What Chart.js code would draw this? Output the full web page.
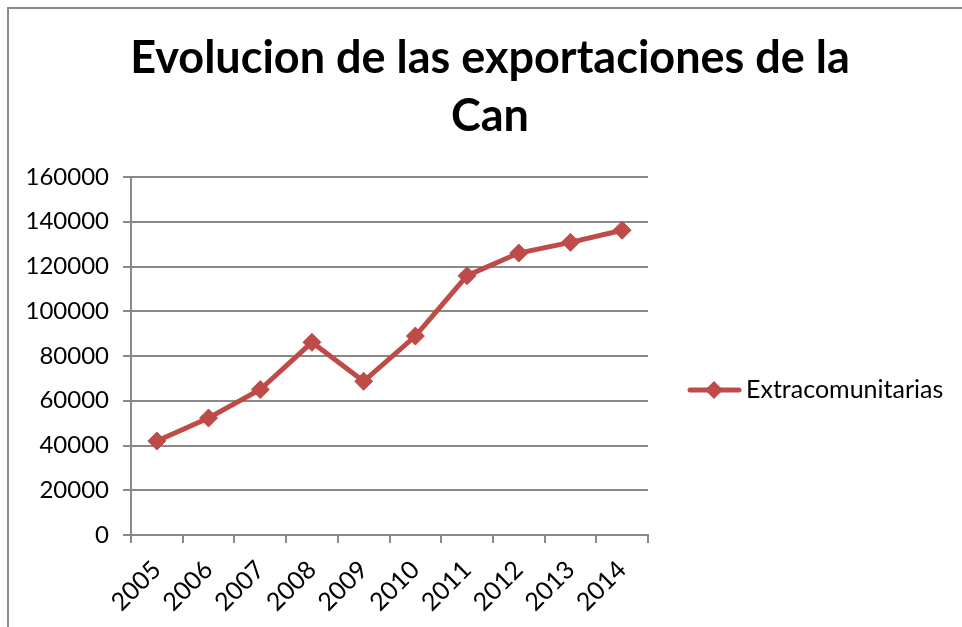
<!DOCTYPE html>
<html>
<head>
<meta charset="utf-8">
<script src="https://cdn.jsdelivr.net/npm/chart.js@4"></script>
<style>
  html, body { margin: 0; padding: 0; background: #fff; overflow: hidden; }
  #frame {
    position: absolute; left: 7px; top: 7px;
    width: 962px; height: 627px;
    border-left: 2px solid #8a8a8a; border-top: 2px solid #8a8a8a;
  }
  #wrap { position: absolute; left: 9px; top: 9px; width: 962px; height: 627px; }
</style>
</head>
<body>
<div id="frame"></div>
<div id="wrap"><canvas id="exportChart"></canvas></div>
<script>
const titleLines = ['Evolucion de las exportaciones de la', 'Can'];
const years = ['2005', '2006', '2007', '2008', '2009', '2010', '2011', '2012', '2013', '2014'];
const extracomunitarias = [42000, 52300, 65000, 86100, 68700, 88900, 115900, 126000, 130800, 136200];
const seriesName = 'Extracomunitarias';

const lineColor = '#BE4B48';
const gridColor = '#898989';
const fontFamily = 'Lato, "Open Sans", sans-serif';

// title centred on the whole frame, not on the plot
const frameTitle = {
    id: 'frameTitle',
    afterDraw(chart) {
        const ctx = chart.ctx;
        ctx.save();
        ctx.fillStyle = '#000';
        ctx.font = 'bold 45px ' + fontFamily;
        ctx.textAlign = 'center';
        ctx.textBaseline = 'alphabetic';
        titleLines.forEach((t, i) => ctx.fillText(t, 481, 64 + i * 58));
        ctx.restore();
    }
};

// legend like the spreadsheet one: short line with a diamond in the middle
const sideLegend = {
    id: 'sideLegend',
    afterDraw(chart) {
        const ctx = chart.ctx;
        const ds = chart.data.datasets[0];
        const y = 381;
        ctx.save();
        ctx.strokeStyle = ds.borderColor;
        ctx.lineWidth = 5;
        ctx.lineCap = 'round';
        ctx.beginPath();
        ctx.moveTo(681, y);
        ctx.lineTo(730, y);
        ctx.stroke();
        ctx.fillStyle = ds.borderColor;
        ctx.beginPath();
        ctx.moveTo(705, y - 9); ctx.lineTo(714, y); ctx.lineTo(705, y + 9); ctx.lineTo(696, y);
        ctx.closePath();
        ctx.fill();
        ctx.fillStyle = '#000';
        ctx.font = '25px ' + fontFamily;
        ctx.textBaseline = 'middle';
        ctx.textAlign = 'left';
        ctx.fillText(ds.label, 737, y);
        ctx.restore();
    }
};

new Chart('exportChart', {
    type: 'line',
    data: {
        labels: years,
        datasets: [{
            label: seriesName,
            data: extracomunitarias,
            borderColor: lineColor,
            backgroundColor: lineColor,
            borderWidth: 5,
            tension: 0,
            fill: false,
            pointStyle: 'rectRot',
            pointRadius: 9,
            pointHoverRadius: 9,
            pointBorderWidth: 1,
            pointBackgroundColor: lineColor,
            pointBorderColor: lineColor
        }]
    },
    options: {
        responsive: true,
        maintainAspectRatio: false,
        animation: false,
        layout: {padding: {top: 168, right: 323, left: 0, bottom: 0}},
        plugins: {
            legend: {display: false},
            tooltip: {enabled: false},
            title: {display: false}
        },
        scales: {
            x: {
                offset: true,
                grid: {
                    offset: true,
                    drawOnChartArea: false,
                    color: gridColor,
                    lineWidth: 2,
                    tickLength: 8
                },
                border: {color: gridColor, width: 2},
                ticks: {
                    color: '#000',
                    font: {family: fontFamily, size: 25},
                    maxRotation: 45,
                    minRotation: 45,
                    padding: 12
                },
                afterFit(scale) { scale.height = 101; }
            },
            y: {
                min: 0,
                max: 160000,
                grid: {color: gridColor, lineWidth: 2, tickLength: 8},
                border: {color: gridColor, width: 2},
                ticks: {
                    stepSize: 20000,
                    color: '#000',
                    font: {family: fontFamily, size: 24},
                    padding: 14,
                    callback: (v) => String(v)
                },
                afterFit(scale) { scale.width = 122; }
            }
        }
    },
    plugins: [frameTitle, sideLegend]
});
</script>
</body>
</html>
